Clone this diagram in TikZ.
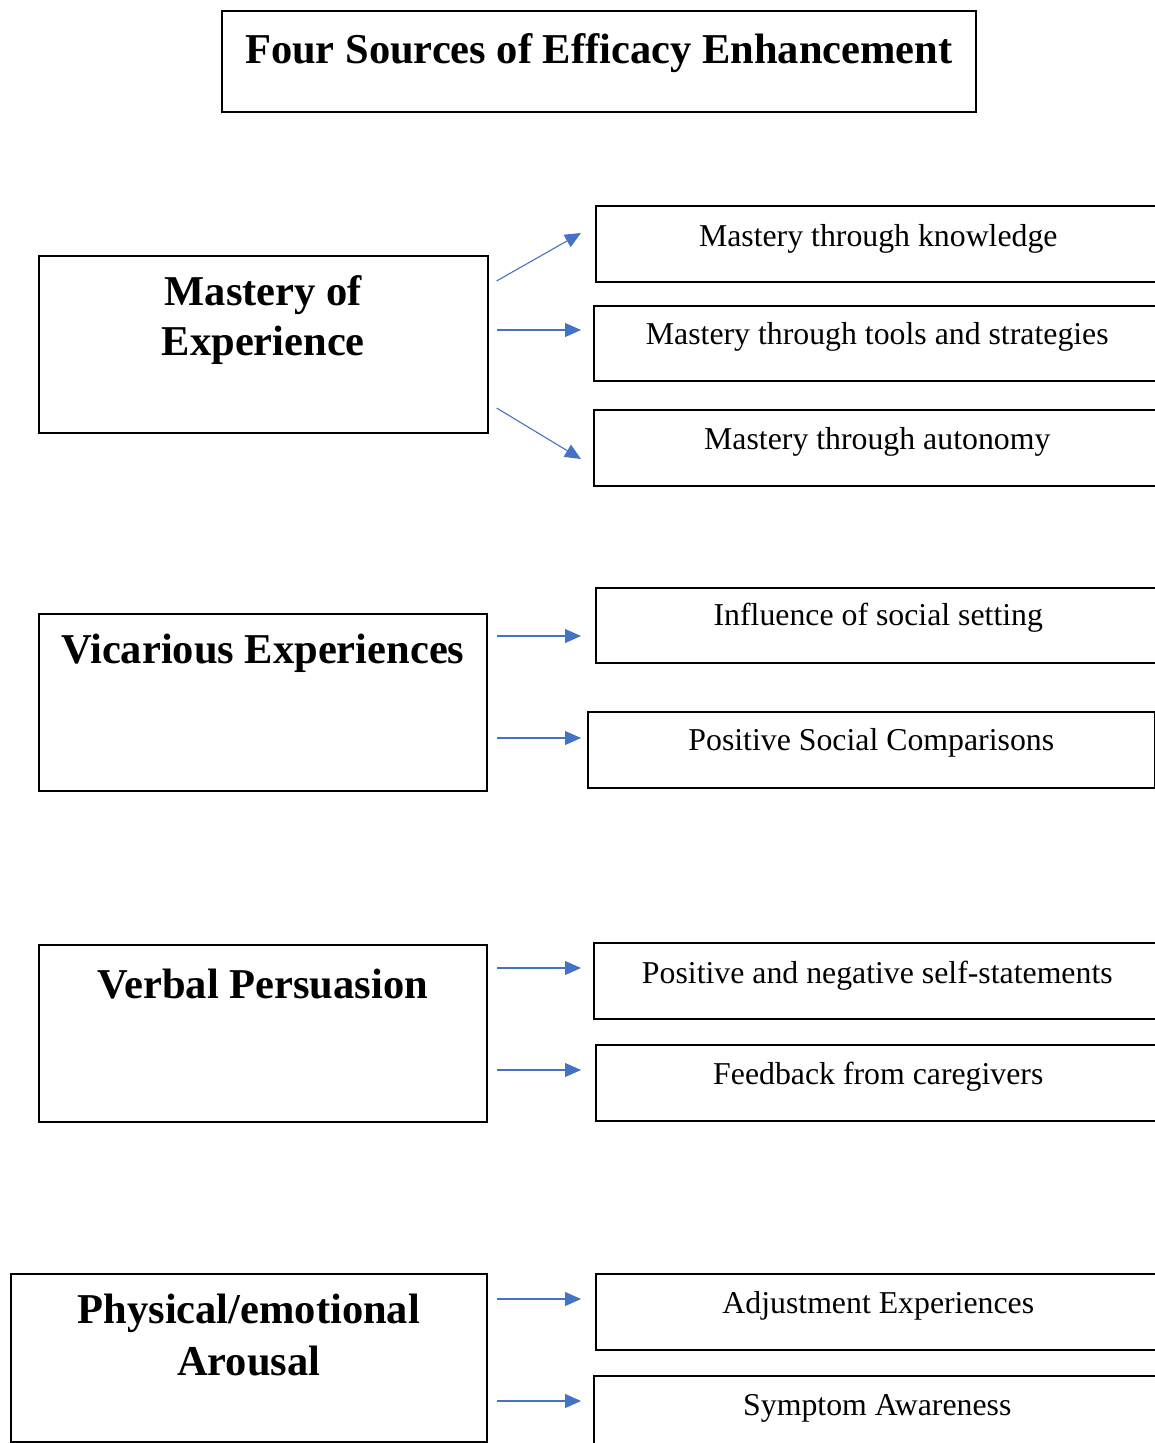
\documentclass[tikz,border=0pt]{standalone}
\usepackage{fontspec}
\setmainfont{Liberation Serif}
\usetikzlibrary{arrows.meta,calc}
\definecolor{arrowblue}{HTML}{4472C4}
\begin{document}
\begin{tikzpicture}[x=1pt,y=-1pt,
  box/.style={draw=black, line width=1.6pt, rectangle, inner sep=0pt, anchor=north west},
  headtext/.style={font=\fontsize{42.5}{51}\selectfont\bfseries, anchor=base, inner sep=0pt},
  itemtext/.style={font=\fontsize{31.8}{38}\selectfont, anchor=base, inner sep=0pt},
  arr/.style={draw=arrowblue, line width=1.1pt, -{Triangle[length=16pt,width=14pt]}}]
\useasboundingbox (0,0) rectangle (1155,1443);
\clip (0,0) rectangle (1155,1443);

% title
\node[box, minimum width=754pt, minimum height=101pt] (title) at (221,10) {};
\node[headtext] (titletxt) at ($(title.north)+(0,53)$) {Four Sources of Efficacy Enhancement};

% the four sources
\node[box, minimum width=449pt, minimum height=177pt] (mast) at (38,255) {};
\node[headtext] (mastA) at ($(mast.north)+(0,50)$) {Mastery of};
\node[headtext] (mastB) at ($(mast.north)+(0,100)$) {Experience};

\node[box, minimum width=448pt, minimum height=177pt] (vic) at (38,613) {};
\node[headtext] (victxt) at ($(vic.north)+(0,50)$) {Vicarious Experiences};

\node[box, minimum width=448pt, minimum height=177pt] (verb) at (38,944) {};
\node[headtext] (verbtxt) at ($(verb.north)+(0,54)$) {Verbal Persuasion};

\node[box, minimum width=476pt, minimum height=168pt] (phys) at (10,1273) {};
\node[headtext] (physA) at ($(phys.north)+(0,50)$) {Physical/emotional};
\node[headtext] (physB) at ($(phys.north)+(0,102)$) {Arousal};

% outcomes
\node[box, minimum width=565pt, minimum height=76pt] (knw) at (595,205) {};
\node[itemtext] (knwtxt) at ($(knw.north)+(0,41)$) {Mastery through knowledge};
\node[box, minimum width=567pt, minimum height=75pt] (tool) at (593,305) {};
\node[itemtext] (tooltxt) at ($(tool.north)+(0,39)$) {Mastery through tools and strategies};
\node[box, minimum width=567pt, minimum height=76pt] (auto) at (593,409) {};
\node[itemtext] (autotxt) at ($(auto.north)+(0,40)$) {Mastery through autonomy};

\node[box, minimum width=565pt, minimum height=75pt] (soc) at (595,587) {};
\node[itemtext] (soctxt) at ($(soc.north)+(0,38)$) {Influence of social setting};
\node[box, minimum width=567pt, minimum height=76pt] (comp) at (587,711) {};
\node[itemtext] (comptxt) at ($(comp.north)+(0,39)$) {Positive Social Comparisons};

\node[box, minimum width=567pt, minimum height=76pt] (self) at (593,942) {};
\node[itemtext] (selftxt) at ($(self.north)+(0,41)$) {Positive and negative self-statements};
\node[box, minimum width=565pt, minimum height=76pt] (feed) at (595,1044) {};
\node[itemtext] (feedtxt) at ($(feed.north)+(0,40)$) {Feedback from caregivers};

\node[box, minimum width=565pt, minimum height=76pt] (adj) at (595,1273) {};
\node[itemtext] (adjtxt) at ($(adj.north)+(0,40)$) {Adjustment Experiences};
\node[box, minimum width=567pt, minimum height=90pt] (symp) at (593,1375) {};
\node[itemtext] (symptxt) at ($(symp.north)+(0,40)$) {Symptom Awareness};

% connectors
\draw[arr] ($(mast.east |- 0,281)+(8,0)$) -- ($(knw.west |- 0,233)+(-14,0)$);
\draw[arr] ($(mast.east |- 0,330)+(8,0)$) -- ($(tool.west |- 0,330)+(-12,0)$);
\draw[arr] ($(mast.east |- 0,408)+(8,0)$) -- ($(auto.west |- 0,459)+(-12,0)$);

\draw[arr] ($(vic.east |- 0,636)+(9,0)$) -- ($(soc.west |- 0,636)+(-14,0)$);
\draw[arr] ($(vic.east |- 0,738)+(9,0)$) -- ($(comp.west |- 0,738)+(-6,0)$);

\draw[arr] ($(verb.east |- 0,968)+(9,0)$) -- ($(self.west |- 0,968)+(-12,0)$);
\draw[arr] ($(verb.east |- 0,1070)+(9,0)$) -- ($(feed.west |- 0,1070)+(-14,0)$);

\draw[arr] ($(phys.east |- 0,1299)+(9,0)$) -- ($(adj.west |- 0,1299)+(-14,0)$);
\draw[arr] ($(phys.east |- 0,1401)+(9,0)$) -- ($(symp.west |- 0,1401)+(-12,0)$);
\end{tikzpicture}
\end{document}
